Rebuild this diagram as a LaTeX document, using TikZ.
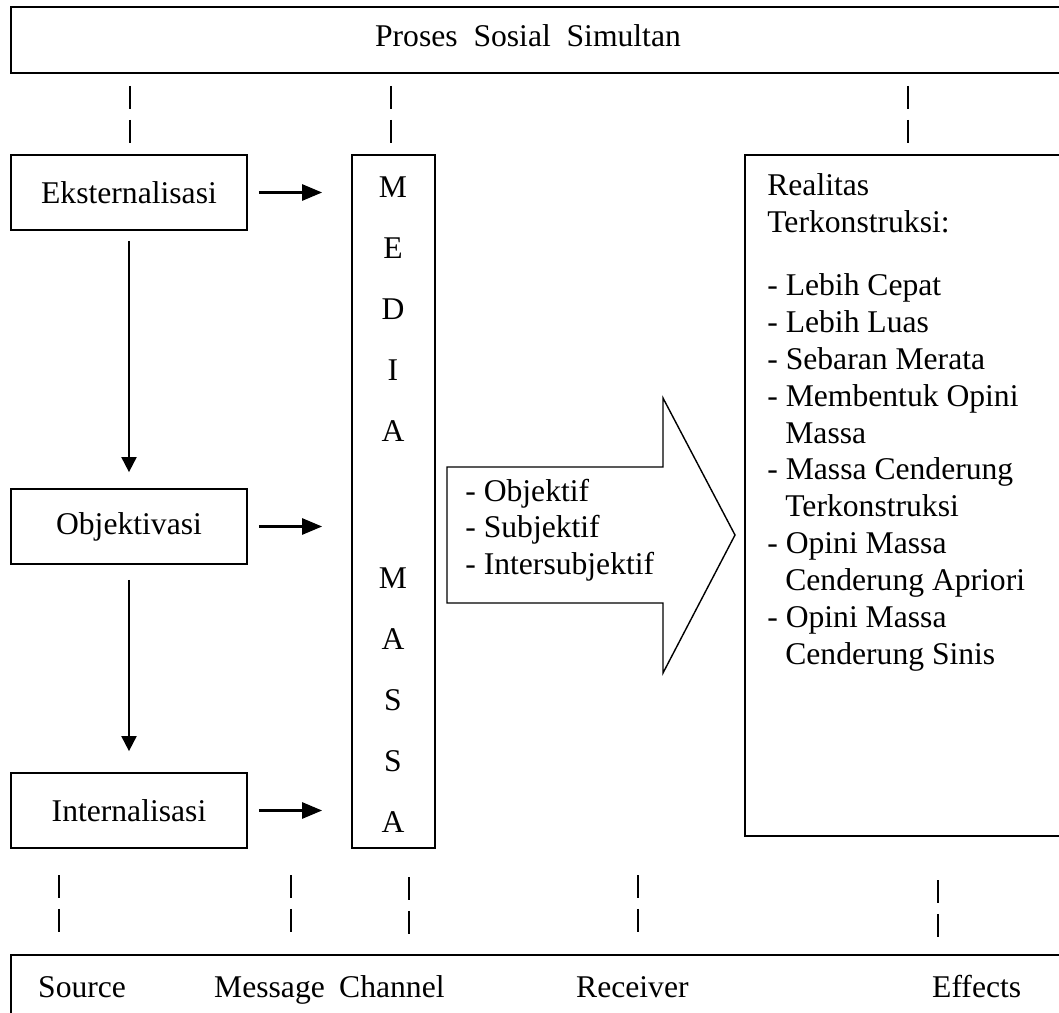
\documentclass[tikz,border=0pt]{standalone}
\usepackage{fontspec}
\setmainfont{Liberation Serif}
\usetikzlibrary{arrows.meta}

\tikzset{
  kotak/.style={draw, line width=1pt, minimum width=4.72cm, minimum height=1.5cm, inner sep=0pt},
  garis/.style={line width=1pt},
  putus/.style={line width=0.9pt, dash pattern=on 0.46cm off 0.22cm},
  panah/.style={line width=1.5pt, -{Triangle[length=0.4cm, width=0.32cm]}},
  turun/.style={line width=1.1pt, -{Triangle[length=0.3cm, width=0.3cm]}},
}

\begin{document}
\begin{tikzpicture}[x=0.02cm, y=-0.02cm, font=\fontsize{18}{21}\selectfont]
			\useasboundingbox (0,0) rectangle (1059,1013);
			\clip (0,0) rectangle (1059,1013);
			
			\draw[garis] (11,7) rectangle (1080,73);
			\node[anchor=base] (proses) at (528,47) {Proses\ \ Sosial\ \ Simultan};
			\draw[putus] (130,86) -- (130,143);
			\draw[putus] (391,86) -- (391,143);
			\draw[putus] (908,86) -- (908,143);
			
			\node[kotak] (eks) at (129,192.5) {Eksternalisasi};
			\node[kotak] (obj) at (129,526.5) {Objektivasi};
			\node[kotak] (int) at (129,810.5) {Internalisasi};
			\draw[turun, shorten <=0.2cm, shorten >=0.32cm] (eks.south) -- (obj.north);
			\draw[turun, shorten <=0.3cm, shorten >=0.42cm] (obj.south) -- (int.north);
			
			\node[draw, line width=1pt, minimum width=1.66cm, minimum height=13.86cm] (media) at (393.5,501.5) {};
			\node (h1) at (393,187) {M};
			\node (h2) at (393,248) {E};
			\node (h3) at (393,309) {D};
			\node (h4) at (393,370) {I};
			\node (h5) at (393,431) {A};
			\node (h6) at (393,578) {M};
			\node (h7) at (393,639) {A};
			\node (h8) at (393,700) {S};
			\node (h9) at (393,761) {S};
			\node (h10) at (393,822) {A};
			\draw[panah, shorten <=0.22cm, shorten >=0.58cm] (eks.east) -- (eks.east -| media.west);
			\draw[panah, shorten <=0.22cm, shorten >=0.58cm] (obj.east) -- (obj.east -| media.west);
			\draw[panah, shorten <=0.22cm, shorten >=0.58cm] (int.east) -- (int.east -| media.west);
			
			% panah besar
			\draw[line width=0.8pt] (447,467) -- (663,467) -- (663,398) -- (735,535) -- (663,673) -- (663,603) -- (447,603) -- cycle;
			\node[align=left, anchor=north west, inner sep=0pt] (sifat) at (465,478.4) {- Objektif\\- Subjektif\\- Intersubjektif};
			
			\draw[garis] (745,155) rectangle (1080,836);
			\node[align=left, anchor=north west, inner sep=0pt] (realitas) at (767,173.4) {Realitas\\Terkonstruksi:\\[0.52cm]
				- Lebih Cepat\\- Lebih Luas\\- Sebaran Merata\\- Membentuk Opini\\\hspace*{0.36cm}Massa\\
				- Massa Cenderung\\\hspace*{0.36cm}Terkonstruksi\\- Opini Massa\\\hspace*{0.36cm}Cenderung Apriori\\
				- Opini Massa\\\hspace*{0.36cm}Cenderung Sinis};
			
			\draw[putus] (59,875) -- (59,940);
			\draw[putus] (291,875) -- (291,940);
			\draw[putus] (409,877) -- (409,942);
			\draw[putus] (638,875) -- (638,940);
			\draw[putus] (938,880) -- (938,942);
			\draw[garis] (11,955) rectangle (1080,1040);
			\node[anchor=base west] (source) at (32,997) {Source};
			\node[anchor=base west] (message) at (208,997) {Message};
			\node[anchor=base west] (channel) at (333,997) {Channel};
			\node[anchor=base west] (receiver) at (570,997) {Receiver};
			\node[anchor=base west] (effects) at (926,997) {Effects};
			
		\end{tikzpicture}
\end{document}
